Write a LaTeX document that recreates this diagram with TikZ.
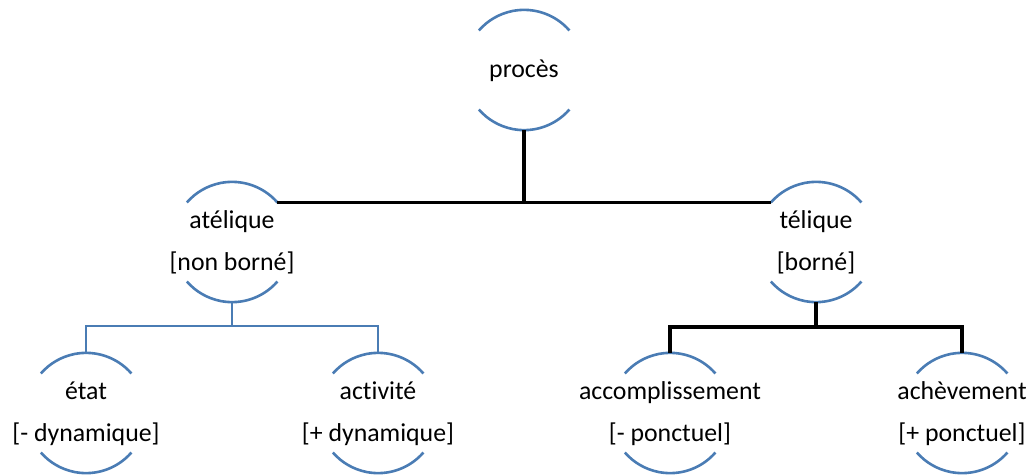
\documentclass[tikz,border=0pt]{standalone}
\usepackage{fontspec}
\setmainfont{Carlito}[Ligatures={NoCommon}]
\definecolor{arcblue}{RGB}{74,124,180}
\begin{document}
\begin{tikzpicture}[x=1pt,y=1pt,
  circ/.style={circle,minimum size=120pt,inner sep=0pt,draw=none},
  arcs/.style={draw=arcblue,line width=2.6pt},
  lbl/.style={font=\fontsize{25.8}{30}\selectfont,anchor=base,inner sep=0pt,text=black},
  blk/.style={line width=3.8pt,black},
  blu/.style={line width=2.2pt,arcblue}]
\useasboundingbox (0,0) rectangle (1031,475);
% node circles
\node[circ] (proc) at (524,405) {};
\node[circ] (ate)  at (232,233) {};
\node[circ] (tel)  at (816,233) {};
\node[circ] (etat) at (86,62) {};
\node[circ] (act)  at (378,62) {};
\node[circ] (acc)  at (670,62) {};
\node[circ] (ach)  at (962,62) {};
% arcs
\foreach \n in {proc,ate,tel,etat,act,acc,ach}{
  \draw[arcs] (\n.41) arc[start angle=41,end angle=139,radius=60pt];
  \draw[arcs] (\n.-41) arc[start angle=-41,end angle=-139,radius=60pt];
}
% labels
\node[lbl] (procT) at ([yshift=-8pt]proc.center) {procès};
\node[lbl] (ateA) at ([yshift=14pt]ate.center) {atélique};
\node[lbl] (ateB) at ([yshift=-28pt]ate.center) {[non borné]};
\node[lbl] (telA) at ([yshift=14pt]tel.center) {télique};
\node[lbl] (telB) at ([yshift=-28pt]tel.center) {[borné]};
\node[lbl] (etatA) at ([yshift=14pt]etat.center) {état};
\node[lbl] (etatB) at ([yshift=-28pt]etat.center) {[- dynamique]};
\node[lbl] (actA) at ([yshift=14pt]act.center) {activité};
\node[lbl] (actB) at ([yshift=-28pt]act.center) {[+ dynamique]};
\node[lbl] (accA) at ([yshift=14pt]acc.center) {accomplissement};
\node[lbl] (accB) at ([yshift=-28pt]acc.center) {[- ponctuel]};
\node[lbl] (achA) at ([yshift=14pt]ach.center) {achèvement};
\node[lbl] (achB) at ([yshift=-28pt]ach.center) {[+ ponctuel]};
% connectors
\coordinate (bj) at (0,149);
\coordinate (kj) at (0,148);
\draw[blk] (proc.south) -- (proc.south |- ate.41);
\draw[blk] (ate.41) -- (tel.139);
\draw[blk] (tel.south) -- (tel.south |- kj);
\draw[blk] (acc.north) -- (acc.north |- kj) -- (ach.north |- kj) -- (ach.north);
\draw[blu] (ate.south) -- (ate.south |- bj);
\draw[blu] (etat.north) -- (etat.north |- bj) -- (act.north |- bj) -- (act.north);
\end{tikzpicture}
\end{document}
